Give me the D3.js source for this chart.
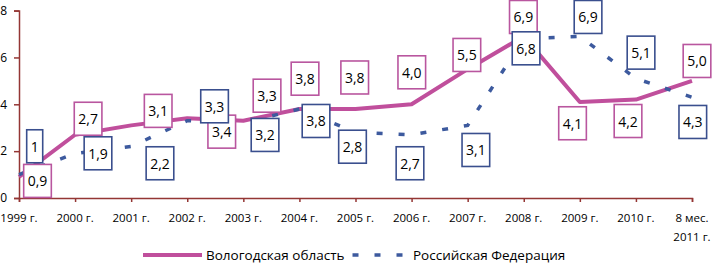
<!DOCTYPE html>
<html>
<head>
<meta charset="utf-8">
<script src="https://cdn.jsdelivr.net/npm/d3@7"></script>
<style>
  html, body { margin: 0; padding: 0; background: #ffffff; }
  svg { display: block; font-family: "Open Sans", "Noto Sans", sans-serif; }
</style>
</head>
<body>
<svg id="chart" width="712" height="265"></svg>
<script>
// ---- data ----
const categories = ["1999 г.", "2000 г.", "2001 г.", "2002 г.", "2003 г.", "2004 г.", "2005 г.",
                    "2006 г.", "2007 г.", "2008 г.", "2009 г.", "2010 г.", "8 мес.|2011 г."];
const vologda = [0.9, 2.7, 3.1, 3.4, 3.3, 3.8, 3.8, 4.0, 5.5, 6.9, 4.1, 4.2, 5.0];
const russia  = [1.0, 1.9, 2.2, 3.3, 3.2, 3.8, 2.8, 2.7, 3.1, 6.8, 6.9, 5.1, 4.3];
const yTicks = [0, 2, 4, 6, 8];
const seriesNames = ["Вологодская область", "Российская Федерация"];

// ---- layout (label box centre offsets from the point, px) ----
const vologdaLabelOffset = [[18.5,4],[13,-16],[27,-14.5],[34.5,13.3],[23.7,-25],[5.6,-30.3],[-0.8,-31.5],
                            [0.2,-32],[-0.8,-14.2],[-0.4,-19.4],[-7.3,21.3],[-7.9,21.4],[5,-19.9]];
const russiaLabelOffset  = [[15.7,-28.3],[22.9,-0.2],[28.8,16.8],[27.3,-14.4],[21.7,11.9],[16.6,12],[-3,14.3],
                            [-1.6,28.5],[8.2,24.6],[2.3,9.6],[8.2,-19.4],[5.1,-25.9],[0.8,24.7]];

const pink = "#c04f9c", pinkBox = "#b9569f";
const blue = "#3d5a9e", blueBox = "#3a4f8e";
const axisColor = "#943634";

const svg = d3.select("#chart");
const x = d3.scalePoint().domain(categories).range([19, 692]);
const y = d3.scaleLinear().domain([0, 8]).range([198, 10.6]);

// axes
const yAxis = svg.append("g").attr("transform", "translate(19,0)")
  .call(d3.axisLeft(y).tickValues(yTicks).tickSize(5).tickPadding(7).tickFormat(d3.format("d")));
const xAxis = svg.append("g").attr("transform", "translate(0,198)")
  .call(d3.axisBottom(x).tickSize(4).tickFormat(""));
[yAxis, xAxis].forEach(g => {
  g.select(".domain").attr("stroke", axisColor).attr("stroke-width", 1.5);
  g.selectAll(".tick line").attr("stroke", axisColor).attr("stroke-width", 1.5);
});
yAxis.selectAll(".tick text").attr("font-size", 12).attr("fill", "#000")
  .attr("font-family", "'Open Sans', sans-serif");
xAxis.selectAll(".tick text").remove();

// x labels
const xl = svg.append("g");
categories.forEach(c => {
  const parts = c.split("|");
  const t = xl.append("text").attr("x", x(c)).attr("y", 222).attr("text-anchor", "middle")
    .attr("font-size", 11.5).attr("fill", "#000");
  parts.forEach((p, i) => t.append("tspan").attr("x", x(c)).attr("dy", i === 0 ? 0 : 19).text(p));
});

// lines
const line = d3.line().x((d, i) => x(categories[i])).y(d => y(d));
svg.append("path").datum(vologda).attr("d", line).attr("fill", "none")
  .attr("stroke", pink).attr("stroke-width", 4).attr("stroke-linejoin", "round");
svg.append("path").datum(russia).attr("d", line).attr("fill", "none")
  .attr("stroke", blue).attr("stroke-width", 3.5).attr("stroke-dasharray", "6 16");

// labels
function labels(values, offsets, color, fmt) {
  const g = svg.append("g");
  values.forEach((v, i) => {
    const cx = x(categories[i]) + offsets[i][0];
    const cy = y(v) + offsets[i][1];
    const txt = fmt(v);
    const gg = g.append("g");
    const rect = gg.append("rect");
    const t = gg.append("text").attr("x", cx).attr("y", cy).attr("text-anchor", "middle")
      .attr("dominant-baseline", "central").attr("font-size", 14).attr("fill", "#000").text(txt);
    const w = t.node().getComputedTextLength() + 8;
    rect.attr("x", cx - w / 2).attr("y", cy - 16.5).attr("width", w).attr("height", 33)
      .attr("fill", "#fff").attr("stroke", color).attr("stroke-width", 1.6);
  });
}
labels(vologda, vologdaLabelOffset, pinkBox, v => v.toFixed(1).replace(".", ","));
labels(russia, russiaLabelOffset, blueBox, v => String(v).replace(".", ","));

// legend
const lg = svg.append("g");
lg.append("line").attr("x1", 143).attr("x2", 202).attr("y1", 255).attr("y2", 255)
  .attr("stroke", pink).attr("stroke-width", 4);
lg.append("text").attr("x", 206).attr("y", 260).attr("font-size", 13.5).attr("fill", "#000").text(seriesNames[0]);
lg.append("line").attr("x1", 352.5).attr("x2", 403).attr("y1", 255).attr("y2", 255)
  .attr("stroke", blue).attr("stroke-width", 3.5).attr("stroke-dasharray", "6 16");
lg.append("text").attr("x", 413).attr("y", 260).attr("font-size", 13.5).attr("fill", "#000").text(seriesNames[1]);
</script>
</body>
</html>
